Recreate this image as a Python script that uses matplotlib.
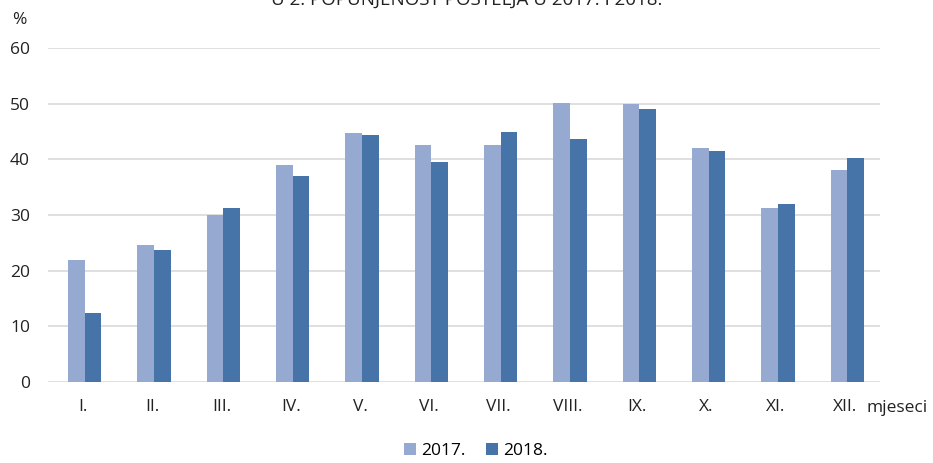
import numpy as np
import matplotlib.pyplot as plt

plt.rcParams['font.family'] = ['Open Sans', 'DejaVu Sans']

# monthly values (%)
months = ['I.', 'II.', 'III.', 'IV.', 'V.', 'VI.', 'VII.', 'VIII.', 'IX.', 'X.', 'XI.', 'XII.']
y2017 = [21.9, 24.6, 30.0, 39.0, 44.7, 42.6, 42.6, 50.1, 49.9, 42.0, 31.3, 38.0]
y2018 = [12.4, 23.7, 31.3, 37.0, 44.4, 39.6, 44.9, 43.6, 49.0, 41.5, 32.0, 40.2]

c2017 = '#95A9D1'
c2018 = '#4674A9'

fig = plt.figure(figsize=(9.33, 4.63), dpi=100)
ax = fig.add_axes([48 / 933, 1 - 382 / 463, 832 / 933, 334 / 463])

x = np.arange(len(months))
w = 0.24
ax.bar(x - w / 2 + 0.03, y2017, w, color=c2017, label='2017.', zorder=3)
ax.bar(x + w / 2 + 0.03, y2018, w, color=c2018, label='2018.', zorder=3)

ax.set_xlim(-0.5, 11.5)
ax.set_ylim(0, 60)
ax.set_yticks(range(0, 61, 10))
ax.set_xticks(x)
ax.set_xticklabels(months)
ax.yaxis.grid(True, color='#D9D9D9', linewidth=1.2, zorder=0)
ax.tick_params(length=0, labelsize=12.5, colors='#222222')
ax.tick_params(axis='x', pad=12)
ax.tick_params(axis='y', pad=13)
for s in ax.spines.values():
    s.set_visible(False)

fig.text(12 / 933, 1 - 24 / 463, '%', fontsize=12.5, color='#222222')
fig.text(867 / 933, 1 - 412 / 463, 'mjeseci', fontsize=12.5, color='#222222')
fig.text(0.5, 1 - 5 / 463, 'U 2. POPUNJENOST POSTELJA U 2017. I 2018.',
         ha='center', va='baseline', fontsize=13.5, color='#222222')

fig.legend(loc='lower center', bbox_to_anchor=(0.51, -0.025), ncol=2, frameon=False,
           fontsize=12.5, handlelength=0.7, handleheight=0.7, handletextpad=0.3,
           columnspacing=1.2)

fig.savefig('out.png', dpi=100)
